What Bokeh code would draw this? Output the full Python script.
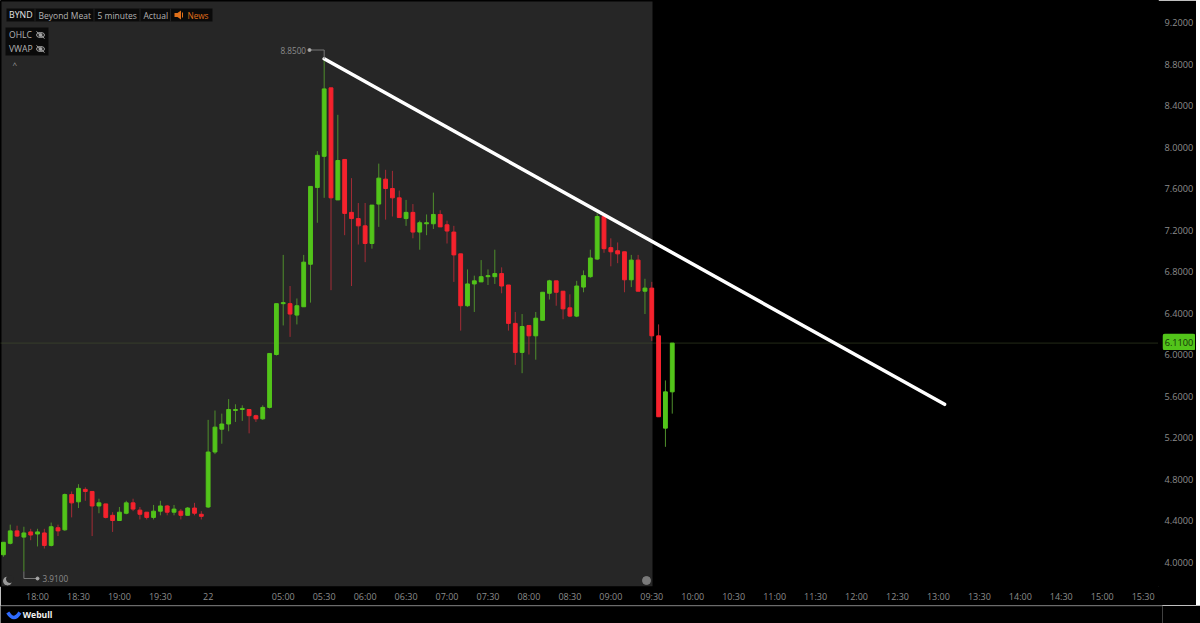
from bokeh.plotting import figure
from bokeh.models import LinearAxis, FixedTicker, Range1d
from bokeh.layouts import column
from bokeh.core.properties import value
from bokeh.embed import file_html
from bokeh.resources import INLINE

opens = [4.07,4.18,4.30,4.24,4.29,4.27,4.28,4.16,4.33,4.31,
         4.65,4.58,4.70,4.68,4.54,4.56,4.45,4.40,4.47,4.57,
         4.50,4.48,4.43,4.49,4.54,4.48,4.49,4.45,4.52,4.46,
         4.53,5.06,5.28,5.33,5.46,5.47,5.47,5.41,5.38,5.49,
         6.00,6.49,6.49,6.38,6.46,6.87,7.61,7.91,8.57,7.49,
         7.88,7.37,7.31,7.24,7.07,7.45,7.69,7.60,7.51,7.31,
         7.37,7.18,7.26,7.26,7.35,7.25,7.18,6.97,6.47,6.68,
         6.70,6.75,6.75,6.78,6.67,6.30,6.02,6.28,6.18,6.33,
         6.59,6.71,6.61,6.45,6.37,6.65,6.75,6.92,7.33,7.03,
         7.00,6.99,6.72,6.91,6.61,6.64,6.18,5.29,5.64]
highs = [4.19,4.36,4.35,4.34,4.32,4.32,4.32,4.38,4.36,4.66,
         4.68,4.75,4.72,4.68,4.61,4.56,4.48,4.53,4.59,4.61,
         4.53,4.48,4.55,4.59,4.55,4.55,4.51,4.53,4.57,4.49,
         5.37,5.46,5.43,5.57,5.52,5.51,5.47,5.42,5.51,6.01,
         6.49,6.96,6.66,6.54,6.96,7.62,7.96,8.85,8.57,8.31,
         7.88,7.70,7.46,7.46,7.44,7.84,7.78,7.77,7.58,7.49,
         7.45,7.29,7.35,7.56,7.39,7.29,7.24,6.97,6.82,6.76,
         6.91,6.82,7.01,6.84,6.67,6.41,6.39,6.28,6.41,6.60,
         6.72,6.71,6.61,6.58,6.71,6.81,7.01,7.36,7.33,7.12,
         7.08,6.99,6.96,6.96,6.73,6.70,6.29,5.75,6.11]
lows = [4.05,4.17,4.24,3.91,4.21,4.15,4.13,4.15,4.25,4.30,
        4.43,4.52,4.59,4.25,4.47,4.42,4.29,4.40,4.46,4.49,
        4.41,4.41,4.41,4.45,4.45,4.45,4.41,4.45,4.45,4.41,
        4.52,5.04,5.14,5.26,5.35,5.36,5.24,5.35,5.37,5.48,
        5.99,6.28,6.17,6.29,6.46,6.50,7.27,7.51,6.62,7.49,
        7.15,6.66,7.06,6.89,7.02,7.23,7.30,7.33,7.32,7.24,
        7.12,7.01,7.15,7.21,7.23,7.07,6.70,6.23,6.46,6.41,
        6.70,6.67,6.68,6.59,6.23,5.90,5.82,6.00,5.95,6.33,
        6.53,6.47,6.34,6.36,6.36,6.60,6.74,6.91,6.98,6.85,
        6.88,6.60,6.65,6.61,6.39,6.13,5.40,5.11,5.43]
closes = [4.19,4.30,4.25,4.28,4.26,4.29,4.16,4.34,4.30,4.65,
          4.57,4.71,4.68,4.54,4.57,4.43,4.40,4.48,4.57,4.51,
          4.46,4.43,4.49,4.54,4.48,4.51,4.45,4.52,4.47,4.44,
          5.06,5.30,5.33,5.47,5.47,5.48,5.41,5.38,5.49,6.01,
          6.49,6.50,6.39,6.47,6.89,7.62,7.92,8.56,7.51,7.87,
          7.36,7.31,7.24,7.07,7.44,7.70,7.60,7.51,7.32,7.37,
          7.18,7.27,7.27,7.35,7.23,7.19,6.96,6.47,6.68,6.71,
          6.75,6.76,6.78,6.66,6.30,6.02,6.27,6.18,6.35,6.60,
          6.71,6.60,6.44,6.37,6.66,6.76,6.93,7.33,7.02,6.99,
          6.97,6.72,6.91,6.61,6.64,6.18,5.40,5.64,6.11]

x_tick_slots = [5,11,17,23,30,41,47,53,59,65,71,77,83,89,95,101,107,113,119,125,131,137,143,149,155,161,167]
x_tick_labels = ["18:00","18:30","19:00","19:30","22","05:00","05:30","06:00","06:30","07:00","07:30",
                 "08:00","08:30","09:00","09:30","10:00","10:30","11:00","11:30","12:00","12:30",
                 "13:00","13:30","14:00","14:30","15:00","15:30"]
y_ticks = [4.0,4.4,4.8,5.2,5.6,6.0,6.4,6.8,7.2,7.6,8.0,8.4,8.8,9.2]
last_price = 6.11
session_high = 8.85
session_low = 3.91
high_slot = 47
low_slot = 3
trend_x = [47, 137.9]
trend_y = [8.85, 5.52]

FONT = value("Open Sans")
GREEN, RED = "#52c41a", "#f5222d"
GREEN_W, RED_W = "#4f8f2c", "#a32c36"
PANEL = "#262626"
GREY = "#8c8c8c"

# pixel helpers for chrome only (the overlay boxes, icons)
def dx(px): return (px - 2.9) / 6.825
def dy(py): return 4 + (561.5 - py) / 103.75

p = figure(width=1200, height=605, frame_width=1158, frame_height=586,
           x_range=Range1d(dx(0), dx(1158)), y_range=Range1d(dy(586), dy(0)),
           output_backend="svg", toolbar_location=None, x_axis_location=None, y_axis_location=None,
           background_fill_color="#000000", border_fill_color="#000000", min_border=0,
           outline_line_color="#000000", outline_line_width=1)
p.grid.visible = False

def style(ax, size):
    ax.axis_line_color = None
    ax.major_tick_line_color = None
    ax.minor_tick_line_color = None
    ax.major_tick_out = 0
    ax.major_tick_in = 0
    ax.minor_tick_out = 0
    ax.minor_tick_in = 0
    ax.major_label_text_color = GREY
    ax.major_label_text_font = "Open Sans"
    ax.major_label_text_font_size = size

xa = LinearAxis(ticker=FixedTicker(ticks=x_tick_slots))
xa.major_label_overrides = {s: l for s, l in zip(x_tick_slots, x_tick_labels)}
style(xa, "9px"); xa.major_label_standoff = 3
p.add_layout(xa, "below")
ya = LinearAxis(ticker=FixedTicker(ticks=y_ticks))
ya.major_label_overrides = {t: f"{t:.4f}" for t in y_ticks}
style(ya, "9.2px"); ya.major_label_standoff = 6
p.add_layout(ya, "right")

# panel
p.quad(left=[dx(1)], right=[dx(652)], top=[dy(1)], bottom=[dy(586)], fill_color=PANEL, line_color=None)
p.line([dx(0), dx(1158)], [last_price, last_price], line_color="#46552e", line_width=1, line_dash="1 1")

# candles
slots = list(range(len(closes)))
up = [c >= o for o, c in zip(opens, closes)]
wick = [GREEN_W if u else RED_W for u in up]
body = [GREEN if u else RED for u in up]
p.segment(slots, highs, slots, lows, line_color=wick, line_width=1)
p.vbar(x=slots, width=0.56, top=[max(o, c) for o, c in zip(opens, closes)],
       bottom=[min(o, c) for o, c in zip(opens, closes)], fill_color=body, line_color=body, line_width=1)

# trend line
p.line(trend_x, trend_y, line_color="#ffffff", line_width=3.5, line_cap="round")

# high / low callouts
p.line([dx(309), high_slot, high_slot], [dy(49.5), dy(49.5), session_high], line_color="#777777", line_width=1)
p.scatter([dx(309)], [dy(49.5)], size=3, marker="circle", color="#aaaaaa")
p.text([dx(305.5)], [dy(49.5)], text=[f"{session_high:.4f}"], text_color=GREY, text_font=FONT,
       text_font_size="8.2px", text_align="right", text_baseline="middle")
p.line([low_slot, low_slot, dx(37)], [session_low, dy(578), dy(578)], line_color="#777777", line_width=1)
p.scatter([dx(37)], [dy(578)], size=3, marker="circle", color="#aaaaaa")
p.text([dx(42)], [dy(578)], text=[f"{session_low:.4f}"], text_color=GREY, text_font=FONT,
       text_font_size="8.2px", text_align="left", text_baseline="middle")

# top-left overlays
p.quad(left=[dx(6)], right=[dx(212)], top=[dy(8)], bottom=[dy(21)], fill_color="#0a0a0a", line_color=None)
p.quad(left=[dx(5)], right=[dx(48)], top=[dy(27)], bottom=[dy(55)], fill_color="#0a0a0a", line_color=None)
for sx in (34.5, 93.5, 139.5, 170):
    p.line([dx(sx), dx(sx)], [dy(8), dy(21)], line_color="#222222", line_width=1)

def put(x, y, t, color, size="8.5px"):
    p.text([dx(x)], [dy(y)], text=[t], text_color=color, text_font=FONT, text_font_size=size,
           text_baseline="middle")

put(8.5, 14.5, "BYND", "#e4e4e4", "8.8px")
put(38, 14.5, "Beyond Meat", "#b4b4b4")
put(97, 14.5, "5 minutes", "#b4b4b4")
put(143, 14.5, "Actual", "#b4b4b4")
put(187, 14.5, "News", "#e0701a", "8.2px")
put(8.5, 34.5, "OHLC", "#b4b4b4", "8.6px")
put(8.5, 48.5, "VWAP", "#b4b4b4", "8.6px")
put(12, 64, "^", "#9a9a9a", "8px")

# speaker icon
p.patch([dx(174), dx(177), dx(180.5), dx(180.5), dx(177), dx(174)],
        [dy(12.5), dy(12.5), dy(10), dy(19), dy(16.5), dy(16.5)], fill_color="#e0701a", line_color=None)
p.segment([dx(182)], [dy(12)], [dx(182)], [dy(17)], line_color="#e0701a", line_width=1)

# crossed eyes
for ey in (34.5, 48.5):
    p.ellipse([dx(40)], [dy(ey)], width=8 / 6.825, height=5 / 103.75, fill_color=None, line_color="#a8a8a8", line_width=1)
    p.scatter([dx(40)], [dy(ey)], size=3, marker="circle", color="#a8a8a8")
    p.segment([dx(36)], [dy(ey - 3.5)], [dx(44)], [dy(ey + 3.5)], line_color="#a8a8a8", line_width=1)

# corner marks
p.scatter([dx(7)], [dy(580.5)], size=8, marker="circle", color="#9a9a9a")
p.scatter([dx(9.5)], [dy(578.5)], size=7, marker="circle", color=PANEL)
p.scatter([dx(646)], [dy(580)], size=8, marker="circle", color="#7a7a7a")

# footer strip
f = figure(width=1200, height=18, x_range=Range1d(0, 1200), y_range=Range1d(18, 0),
           output_backend="svg", toolbar_location=None, x_axis_location=None, y_axis_location=None,
           background_fill_color="#000000", border_fill_color="#000000", min_border=0)
f.outline_line_color = None
f.grid.visible = False
f.line([0, 1200], [0.5, 0.5], line_color="#333333", line_width=1)
f.quadratic(x0=[7.5], y0=[7], x1=[20], y1=[7], cx=[14], cy=[17], line_color="#2f6bff", line_width=3.5)
f.text([23], [9.5], text=["Webull"], text_color="#f0f0f0", text_font=value("Open Sans"),
       text_font_size="8.6px", text_font_style="bold", text_baseline="middle")

# last-price badge: frame glyphs are clipped at the axis, so it is a small figure over the axis strip
b = figure(width=33, height=17, frame_width=33, frame_height=17, sizing_mode="fixed",
           x_range=Range1d(0, 33), y_range=Range1d(17, 0),
           output_backend="svg", toolbar_location=None, x_axis_location=None, y_axis_location=None,
           background_fill_color="#000000", border_fill_color="#000000", min_border=0,
           outline_line_color=None,
           styles={"position": "absolute", "left": "1162px", "top": "333px", "z-index": "5",
                   "width": "33px", "height": "17px", "min-width": "33px", "min-height": "17px"})
b.grid.visible = False
b.quad(left=[0], right=[33], top=[0], bottom=[17], fill_color=GREEN, line_color=None, border_radius=3)
b.text([16.5], [8.5], text=[f"{last_price:.4f}"], text_color="#12300a", text_font=FONT, text_font_size="9.2px",
       text_align="center", text_baseline="middle")

root = column(p, f, b, spacing=0, width=1200, height=623,
              styles={"position": "absolute", "left": "0px", "top": "0px"})
open("out.html", "w").write(file_html(root, INLINE))
